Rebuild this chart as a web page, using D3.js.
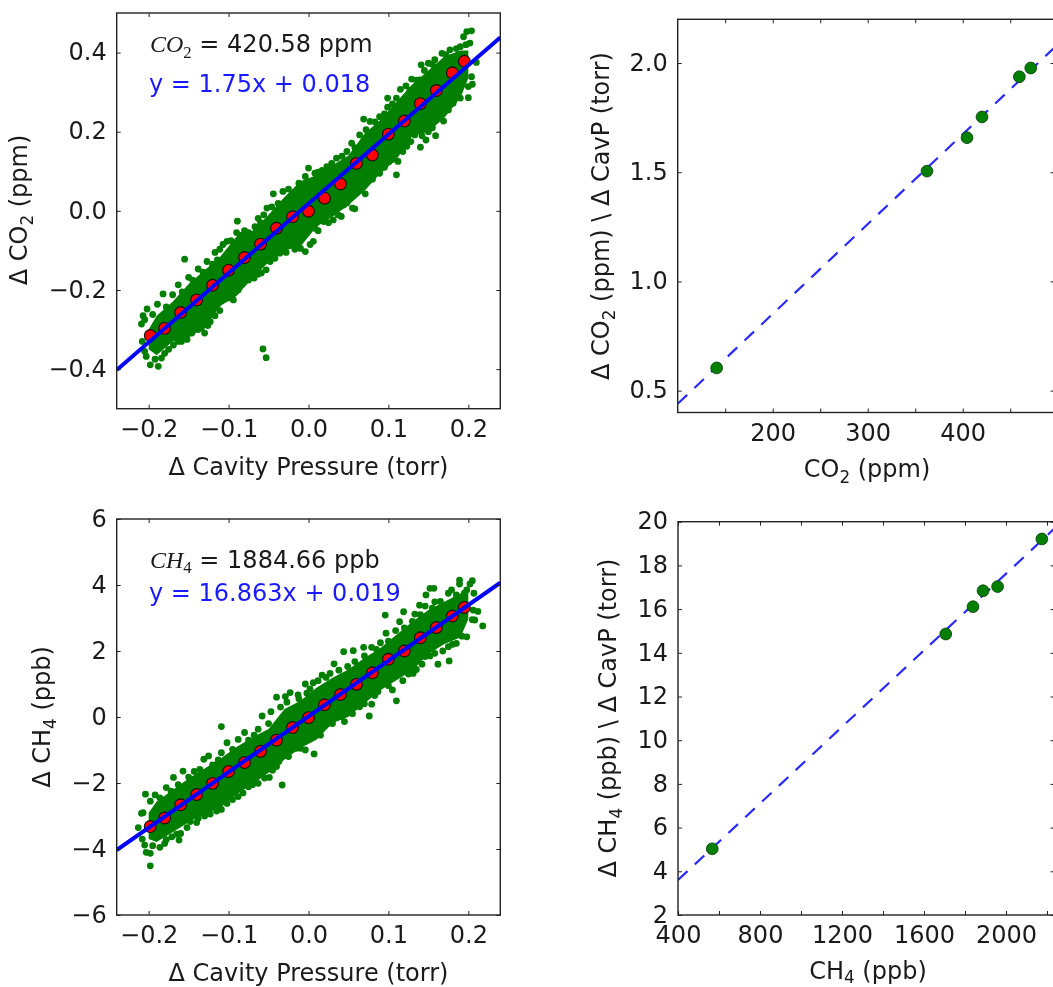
<!DOCTYPE html>
<html>
<head>
<meta charset="utf-8">
<script src="https://cdn.jsdelivr.net/npm/d3@7"></script>
<style>
html,body{margin:0;padding:0;background:#fff;overflow:hidden}
svg{display:block;filter:blur(0.35px)}
text{font-family:"DejaVu Sans",sans-serif;fill:#1a1a1a}
</style>
</head>
<body>
<script>
// ---------- Left column: shared pressure axis ----------
const pressureTicks = [-0.2, -0.1, 0, 0.1, 0.2];
const binPressure = [-0.198,-0.18,-0.16,-0.14,-0.12,-0.10,-0.08,-0.06,-0.04,-0.02,0,0.02,0.04,0.06,0.08,0.10,0.12,0.14,0.16,0.18,0.195];
const fitPressure = [-0.24, 0.24];

// ---------- CO2 panel ----------
const co2Ticks = [-0.4,-0.2,0,0.2,0.4];
const co2BinMeans = [-0.315,-0.297,-0.257,-0.225,-0.188,-0.150,-0.118,-0.084,-0.044,-0.015,-0.001,0.032,0.068,0.120,0.141,0.194,0.227,0.271,0.304,0.349,0.378];
const co2Fit = [-0.402, 0.438];
const co2BandX = [-0.2,-0.19,-0.17,-0.15,-0.13,-0.11,-0.09,-0.07,-0.05,-0.03,-0.01,0.01,0.03,0.05,0.07,0.09,0.11,0.13,0.15,0.17,0.19,0.2];
const co2BandLow = [-0.35,-0.365,-0.33,-0.32,-0.295,-0.24,-0.215,-0.17,-0.13,-0.10,-0.09,-0.04,-0.015,0.015,0.05,0.095,0.13,0.19,0.2,0.235,0.285,0.335];
const co2BandHigh = [-0.30,-0.265,-0.23,-0.185,-0.15,-0.115,-0.065,-0.05,-0.01,0.035,0.075,0.09,0.115,0.14,0.195,0.23,0.275,0.32,0.355,0.39,0.405,0.405];
const co2DotsX = [-0.202,-0.189,-0.182,-0.170,-0.209,-0.207,-0.155,-0.163,-0.150,-0.138,-0.127,-0.114,-0.111,-0.102,-0.090,-0.089,-0.080,-0.067,-0.063,-0.052,-0.056,-0.044,-0.038,-0.032,
 -0.203,-0.198,-0.188,-0.184,-0.180,-0.169,-0.159,-0.146,-0.130,-0.134,-0.123,-0.111,-0.114,-0.094,-0.105,-0.082,-0.059,-0.068,-0.048,-0.053,-0.036,-0.017,-0.004,0.006,-0.057,-0.053,
 0.000,-0.004,0.008,0.017,0.023,0.035,0.048,0.054,0.064,0.069,0.077,0.089,0.099,0.099,0.110,0.115,0.122,0.129,0.139,0.141,0.150,0.158,0.167,0.177,0.190,0.202,0.194,0.198,0.204,0.210,
 0.200,0.200,0.204,0.181,0.169,0.159,0.147,0.140,0.150,0.133,0.123,0.112,0.101,0.110,0.089,0.071,0.059,0.058,0.055,0.044,0.041,0.031,0.019,0.008];
const co2DotsY = [-0.248,-0.236,-0.210,-0.212,-0.286,-0.265,-0.122,-0.187,-0.168,-0.147,-0.128,-0.124,-0.097,-0.077,-0.055,-0.026,-0.050,-0.040,-0.019,0.007,-0.010,0.043,0.019,0.049,
 -0.368,-0.389,-0.393,-0.372,-0.360,-0.339,-0.330,-0.309,-0.309,-0.296,-0.280,-0.252,-0.237,-0.225,-0.215,-0.183,-0.157,-0.170,-0.128,-0.149,-0.107,-0.097,-0.103,-0.077,-0.349,-0.371,
 0.108,0.087,0.095,0.102,0.112,0.133,0.150,0.171,0.192,0.232,0.226,0.238,0.262,0.285,0.285,0.307,0.316,0.333,0.331,0.369,0.373,0.382,0.398,0.407,0.415,0.424,0.440,0.453,0.455,0.375,
 0.286,0.314,0.339,0.272,0.227,0.190,0.179,0.161,0.200,0.192,0.163,0.125,0.125,0.091,0.095,0.043,0.051,0.005,0.007,0.015,-0.014,-0.023,-0.027,-0.044];
const co2EdgeX = [-0.205,-0.195,-0.178,-0.158,-0.145,-0.132,-0.120,-0.117,-0.107,-0.097,-0.085,-0.075,-0.06,-0.046,-0.025,-0.012,0.012,0.029,0.042,0.058,0.072,0.083,0.095,0.105,0.127,0.135,0.145,0.155,0.172,0.185,0.197,
 -0.208,-0.205,-0.192,-0.175,-0.163,-0.152,-0.138,-0.126,-0.117,-0.10,-0.088,-0.075,-0.063,-0.042,-0.028,-0.01,0.002,0.012,0.025,0.037,0.048,0.065,0.08,0.095,0.105,0.118,0.128,0.142,0.155,0.165,0.175,0.19,0.205];
const co2EdgeY = [-0.275,-0.262,-0.243,-0.205,-0.175,-0.155,-0.135,-0.105,-0.085,-0.075,-0.062,-0.055,-0.03,0.01,0.055,0.07,0.098,0.12,0.138,0.16,0.205,0.225,0.245,0.27,0.305,0.33,0.355,0.37,0.395,0.41,0.42,
 -0.33,-0.355,-0.375,-0.35,-0.33,-0.325,-0.30,-0.29,-0.265,-0.22,-0.2,-0.175,-0.16,-0.12,-0.105,-0.095,-0.085,-0.05,-0.03,-0.01,0.02,0.055,0.08,0.11,0.13,0.15,0.175,0.19,0.21,0.235,0.255,0.285,0.32];

// ---------- CH4 panel ----------
const ch4Ticks = [-6,-4,-2,0,2,4,6];
const ch4BinMeans = [-3.32,-3.06,-2.66,-2.35,-2.01,-1.65,-1.38,-1.04,-0.70,-0.32,-0.02,0.37,0.68,0.99,1.34,1.75,2.00,2.40,2.71,3.06,3.32];
const ch4Fit = [-4.03, 4.07];
const ch4BandX = [-0.2,-0.19,-0.17,-0.15,-0.13,-0.11,-0.09,-0.07,-0.05,-0.03,-0.01,0.01,0.03,0.05,0.07,0.09,0.11,0.13,0.15,0.17,0.19,0.2];
const ch4BandLow = [-3.7,-3.79,-3.49,-3.19,-2.94,-2.74,-2.34,-2.04,-1.69,-1.29,-0.94,-0.69,-0.19,0.01,0.41,0.81,1.11,1.41,1.91,2.21,2.41,2.96];
const ch4BandHigh = [-2.9,-2.56,-2.21,-1.86,-1.56,-1.26,-0.91,-0.61,-0.36,0.24,0.49,0.89,1.19,1.44,1.79,2.09,2.49,2.89,3.24,3.49,3.74,3.79];
const ch4DotsX = [-0.204,-0.192,-0.178,-0.169,-0.157,-0.136,-0.131,-0.125,-0.109,-0.109,-0.102,-0.088,-0.080,-0.063,-0.058,-0.047,-0.040,-0.023,-0.029,-0.013,-0.002,-0.209,-0.213,
 -0.198,-0.203,-0.198,-0.205,-0.186,-0.180,-0.171,-0.162,-0.160,-0.148,-0.138,-0.123,-0.109,-0.102,-0.123,-0.088,-0.075,-0.063,-0.049,-0.033,-0.045,-0.037,-0.015,0.007,-0.004,
 -0.004,0.006,0.017,0.027,0.032,0.049,0.044,0.056,0.069,0.079,0.090,0.097,0.096,0.109,0.114,0.119,0.133,0.139,0.146,0.147,0.152,0.157,0.158,0.175,0.179,0.189,0.189,0.198,0.202,0.205,0.207,0.218,0.208,0.206,
 0.198,0.185,0.176,0.162,0.175,0.158,0.146,0.135,0.131,0.110,0.105,0.097,0.087,0.076,0.079,0.064,0.045,0.039,0.025];
const ch4DotsY = [-2.34,-2.36,-2.14,-1.83,-1.64,-1.59,-1.28,-1.18,-0.29,-1.08,-0.78,-0.68,-0.47,-0.37,0.03,0.16,0.60,0.74,0.62,0.67,0.72,-2.92,-3.35,
 -4.51,-4.10,-4.13,-3.88,-3.95,-3.83,-3.63,-3.73,-3.53,-3.17,-3.07,-2.94,-2.80,-2.62,-2.72,-2.41,-2.11,-2.01,-1.83,-2.06,-1.61,-1.35,-0.95,-1.12,-1.00,
 1.00,1.04,1.27,1.32,1.61,1.53,1.98,2.01,2.11,2.11,2.25,2.54,3.09,2.62,2.89,3.19,3.12,3.39,3.36,3.70,3.90,3.90,3.49,3.75,3.85,4.15,4.03,3.85,4.03,4.13,3.75,2.76,2.94,3.24,
 2.43,2.23,1.70,1.60,2.13,1.93,1.83,1.44,1.32,0.49,0.82,1.02,0.77,0.03,0.39,0.31,-0.14,0.01,-0.19];
const ch4EdgeX = [-0.207,-0.198,-0.186,-0.172,-0.163,-0.15,-0.143,-0.12,-0.113,-0.095,-0.075,-0.068,-0.05,-0.035,-0.027,-0.012,0.002,0.012,0.022,0.038,0.058,0.07,0.085,0.1,0.12,0.13,0.14,0.155,0.165,0.185,0.195,
 -0.208,-0.195,-0.178,-0.165,-0.152,-0.14,-0.13,-0.115,-0.095,-0.082,-0.07,-0.055,-0.04,-0.025,-0.01,0.015,0.03,0.055,0.07,0.083,0.1,0.118,0.125,0.142,0.152,0.168,0.18,0.192,0.205,0.212];
const ch4EdgeY = [-2.9,-2.55,-2.45,-2.25,-2.05,-1.82,-1.65,-1.45,-1.3,-0.98,-0.7,-0.55,-0.2,0.3,0.45,0.55,0.85,1.1,1.2,1.42,1.68,1.85,2.05,2.3,2.7,2.9,3.1,3.3,3.5,3.7,3.75,
 -3.7,-3.9,-3.72,-3.55,-3.35,-3.2,-3.0,-2.85,-2.5,-2.3,-2.05,-1.85,-1.5,-1.2,-0.95,-0.55,-0.2,0.1,0.4,0.65,0.95,1.1,1.3,1.6,1.85,2.0,2.2,2.45,2.95,3.2];

// ---------- Right column ----------
const gasCo2 = [141,362.4,404.5,420.3,459.6,471.6];
const ratioCo2 = [0.604,1.505,1.658,1.753,1.937,1.977];
const gasCo2Line = [100,500];
const ratioCo2Line = [0.44,2.085];
const co2XTicks = [150,200,250,300,350,400,450];
const co2XLabels = [200,300,400];
const ratioCo2Ticks = [0.5,1.0,1.5,2.0];

const gasCh4 = [567,1706,1839,1888,1959,2175];
const ratioCh4 = [5.03,14.86,16.11,16.84,17.03,19.21];
const gasCh4Line = [400,2240];
const ratioCh4Line = [3.6,19.72];
const ch4XTicks = [400,600,800,1000,1200,1400,1600,1800,2000,2200];
const ch4XLabels = [400,800,1200,1600,2000];
const ratioCh4Ticks = [2,4,6,8,10,12,14,16,18,20];

// ---------- Drawing ----------
const W = 1053, H = 987;
const GREEN = "#007f00", BLUE = "#0000ff";
const TICK = 24, LABEL = 24;
const svg = d3.select("body").append("svg").attr("width", W).attr("height", H);
svg.append("defs");
const fmtMinus = (s) => s.replace("-", "\u2212");

function axes(g, x, y, xTicks, xLabels, xFmt, yTicks, yFmt) {
  const [x0, x1] = x.range(), [y0, y1] = y.range();
  const tk = 4;
  const mk = (gen, tx, ty) => {
    const a = g.append("g").attr("transform", `translate(${tx},${ty})`).call(gen);
    a.select(".domain").remove();
    a.selectAll("line").attr("stroke", "#222").attr("stroke-width", 1);
    return a;
  };
  const bottom = mk(d3.axisBottom(x).tickValues(xTicks).tickSize(-tk).tickPadding(0)
      .tickFormat(v => xLabels.includes(v) ? fmtMinus(xFmt(v)) : ""), 0, y0);
  bottom.selectAll("text").attr("font-size", TICK).attr("dy", null).attr("y", null)
      .attr("transform", "translate(0,28)").style("font-family", '"DejaVu Sans",sans-serif').attr("fill", "#1a1a1a");
  mk(d3.axisTop(x).tickValues(xTicks).tickSize(-tk).tickFormat(""), 0, y1);
  const left = mk(d3.axisLeft(y).tickValues(yTicks).tickSize(-tk).tickPadding(0)
      .tickFormat(v => fmtMinus(yFmt(v))), x0, 0);
  left.selectAll("text").attr("font-size", TICK).attr("x", -10).attr("dy", "0.30em")
      .style("font-family", '"DejaVu Sans",sans-serif').attr("fill", "#1a1a1a");
  mk(d3.axisRight(y).tickValues(yTicks).tickSize(-tk).tickFormat(""), x1, 0);
  g.append("rect").attr("x", x0).attr("y", y1).attr("width", x1 - x0).attr("height", y0 - y1)
    .attr("fill", "none").attr("stroke", "#222").attr("stroke-width", 1.4);
}

function richText(g, parts, size, opts) {
  const t = g.append("text").attr("font-size", size);
  const drop = size * (opts.subDrop || 0.24);
  if (opts.rotate) t.attr("transform", `translate(${opts.x},${opts.y}) rotate(-90)`).attr("text-anchor", "middle");
  else t.attr("x", opts.x).attr("y", opts.y).attr("text-anchor", opts.anchor || "middle");
  if (opts.fill) t.style("fill", opts.fill);
  t.attr("xml:space", "preserve");
  parts.forEach(p => {
    const s = t.append("tspan").text(p.t);
    if (p.sub) s.attr("font-size", size * 0.7).attr("dy", drop);
    if (p.after) s.attr("dy", -drop);
    if (p.math) s.style("font-family", '"Liberation Serif",serif').style("font-style", "italic");
    if (p.mathUp) s.style("font-family", '"Liberation Serif",serif');
  });
  return t;
}

function scatterPanel(id, yRange, yDomain, yTicks, yFmt, band, dotsX, dotsY, means, fit) {
  const g = svg.append("g");
  const x = d3.scaleLinear().domain([-0.24, 0.24]).range([116.7, 500.3]);
  const y = d3.scaleLinear().domain(yDomain).range(yRange);
  const clip = "clip-" + id;
  svg.select("defs").append("clipPath").attr("id", clip).append("rect")
    .attr("x", 116.7).attr("y", yRange[1]).attr("width", 383.6).attr("height", yRange[0] - yRange[1]);
  const plot = g.append("g").attr("clip-path", `url(#${clip})`);
  const area = d3.area().x((d, i) => x(band.x[i])).y0((d, i) => y(band.low[i])).y1((d, i) => y(band.high[i]));
  plot.append("path").datum(band.x).attr("d", area).attr("fill", GREEN);
  plot.selectAll(".dot").data(dotsX).join("circle").attr("class", "dot")
    .attr("cx", d => x(d)).attr("cy", (d, i) => y(dotsY[i])).attr("r", 3.4).attr("fill", GREEN);
  plot.selectAll(".mean").data(binPressure).join("circle").attr("class", "mean")
    .attr("cx", d => x(d)).attr("cy", (d, i) => y(means[i])).attr("r", 5.9)
    .attr("fill", "#ff0000").attr("stroke", "#111").attr("stroke-width", 1.1);
  plot.append("path").datum(fitPressure)
    .attr("d", d3.line().x(d => x(d)).y((d, i) => y(fit[i])))
    .attr("stroke", BLUE).attr("stroke-width", 4).attr("fill", "none");
  axes(g, x, y, pressureTicks, pressureTicks, d3.format(".1f"), yTicks, yFmt);
  return { g, x, y };
}

function ratioPanel(id, xRange, xDomain, yRange, yDomain, gas, ratio, lineX, lineY, xTicks, xLabels, yTicks, yFmt) {
  const g = svg.append("g");
  const x = d3.scaleLinear().domain(xDomain).range(xRange);
  const y = d3.scaleLinear().domain(yDomain).range(yRange);
  const clip = "clip-" + id;
  svg.select("defs").append("clipPath").attr("id", clip).append("rect")
    .attr("x", xRange[0]).attr("y", yRange[1]).attr("width", xRange[1] - xRange[0]).attr("height", yRange[0] - yRange[1]);
  const plot = g.append("g").attr("clip-path", `url(#${clip})`);
  plot.append("path").datum(lineX)
    .attr("d", d3.line().x(d => x(d)).y((d, i) => y(lineY[i])))
    .attr("stroke", "#2a2aff").attr("stroke-width", 2.2).attr("fill", "none").attr("stroke-dasharray", "13,10");
  plot.selectAll("circle").data(gas).join("circle")
    .attr("cx", d => x(d)).attr("cy", (d, i) => y(ratio[i])).attr("r", 5.9)
    .attr("fill", GREEN).attr("stroke", "#0a3a0a").attr("stroke-width", 0.8);
  axes(g, x, y, xTicks, xLabels, d3.format("d"), yTicks, yFmt);
  return { g, x, y };
}

const A = scatterPanel("a", [408.7, 13], [-0.5, 0.5], co2Ticks, d3.format(".1f"),
  { x: co2BandX, low: co2BandLow, high: co2BandHigh }, co2DotsX.concat(co2EdgeX), co2DotsY.concat(co2EdgeY), co2BinMeans, co2Fit);
const C = scatterPanel("c", [915, 519], [-6, 6], ch4Ticks, d3.format("d"),
  { x: ch4BandX, low: ch4BandLow, high: ch4BandHigh }, ch4DotsX.concat(ch4EdgeX), ch4DotsY.concat(ch4EdgeY), ch4BinMeans, ch4Fit);
const B = ratioPanel("b", [677.7, 1054.5], [100, 496.6], [412.5, 19.3], [0.4, 2.2],
  gasCo2, ratioCo2, gasCo2Line, ratioCo2Line, co2XTicks, co2XLabels, ratioCo2Ticks, d3.format(".1f"));
const D = ratioPanel("d", [678, 1054.5], [400, 2236.6], [915, 521.7], [2, 20],
  gasCh4, ratioCh4, gasCh4Line, ratioCh4Line, ch4XTicks, ch4XLabels, ratioCh4Ticks, d3.format("d"));

// Axis titles
richText(svg, [{ t: "\u0394 Cavity Pressure (torr)" }], LABEL, { x: 308.5, y: 475 });
richText(svg, [{ t: "\u0394 Cavity Pressure (torr)" }], LABEL, { x: 308.5, y: 981 });
richText(svg, [{ t: "CO" }, { t: "2", sub: 1 }, { t: " (ppm)", after: 1 }], LABEL, { x: 867, y: 477 });
richText(svg, [{ t: "CH" }, { t: "4", sub: 1 }, { t: " (ppb)", after: 1 }], LABEL, { x: 868, y: 978.5, subDrop: 0.2 });
richText(svg, [{ t: "\u0394 CO" }, { t: "2", sub: 1 }, { t: " (ppm)", after: 1 }], LABEL, { x: 27, y: 210, rotate: 1 });
richText(svg, [{ t: "\u0394 CH" }, { t: "4", sub: 1 }, { t: " (ppb)", after: 1 }], LABEL, { x: 50, y: 717, rotate: 1 });
richText(svg, [{ t: "\u0394 CO" }, { t: "2", sub: 1 }, { t: " (ppm) \\ \u0394 CavP (torr)", after: 1 }], LABEL, { x: 609, y: 216, rotate: 1 });
richText(svg, [{ t: "\u0394 CH" }, { t: "4", sub: 1 }, { t: " (ppb) \\ \u0394 CavP (torr)", after: 1 }], LABEL, { x: 616, y: 718, rotate: 1 });

// Annotations
richText(svg, [{ t: "CO", math: 1 }, { t: "2", sub: 1, mathUp: 1 }, { t: " = 420.58 ppm", after: 1 }], 24, { x: 150, y: 52, anchor: "start" });
richText(svg, [{ t: "y = 1.75x + 0.018" }], 24, { x: 149, y: 92, anchor: "start", fill: "#1a1aff" });
richText(svg, [{ t: "CH", math: 1 }, { t: "4", sub: 1, mathUp: 1 }, { t: " = 1884.66 ppb", after: 1 }], 24, { x: 150, y: 567.7, anchor: "start" });
richText(svg, [{ t: "y = 16.863x + 0.019" }], 24, { x: 149, y: 601, anchor: "start", fill: "#1a1aff" });
</script>
</body>
</html>
